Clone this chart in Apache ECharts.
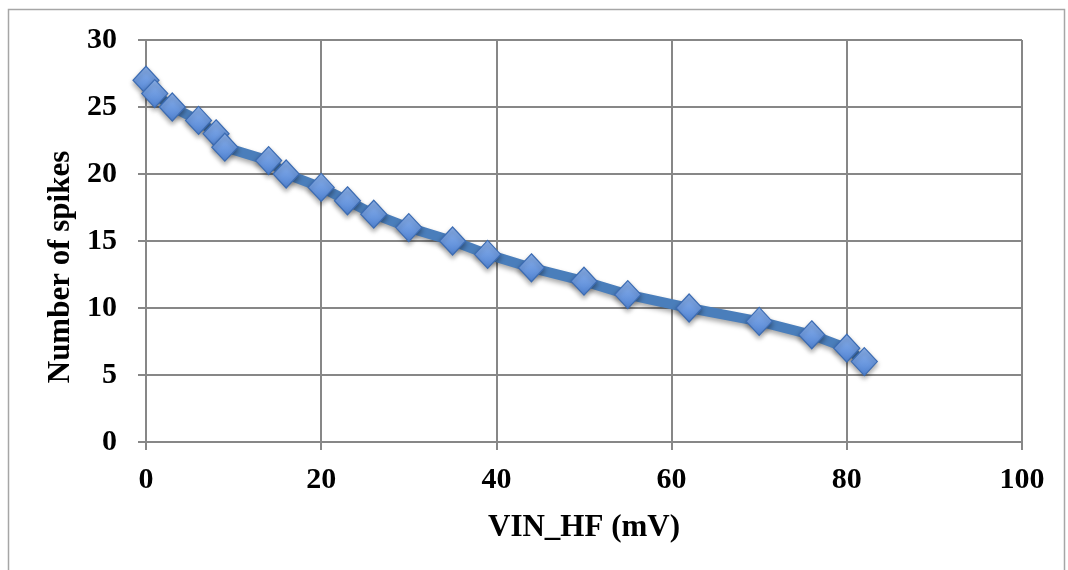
<!DOCTYPE html>
<html><head><meta charset="utf-8">
<script src="https://cdn.jsdelivr.net/npm/echarts@6/dist/echarts.min.js"></script>
<style>html,body{margin:0;padding:0;background:#fff}#c{width:1068px;height:570px}</style>
</head><body><div id="c"></div>
<script>
var xValues = [0, 1, 3, 6, 8, 9, 14, 16, 20, 23, 26, 30, 35, 39, 44, 50, 55, 62, 70, 76, 80, 82];
var spikes  = [27, 26, 25, 24, 23, 22, 21, 20, 19, 18, 17, 16, 15, 14, 13, 12, 11, 10, 9, 8, 7, 6];
var xName = 'VIN_HF (mV)';
var yName = 'Number of spikes';
var data = xValues.map(function(x, i){ return [x, spikes[i]]; });
var chart = echarts.init(document.getElementById('c'));
var font = '"Liberation Serif","Times New Roman",serif';
chart.setOption({
  animation: false,
  graphic: [{type:'rect', shape:{x:8.5,y:9.5,width:1056,height:580}, style:{fill:'none',stroke:'#a6a6a6',lineWidth:1.5}}],
  grid: {left:146, right:46, top:40, bottom:128},
  xAxis: {
    type:'value', min:0, max:100, interval:20,
    name:xName, nameLocation:'middle', nameGap:70,
    nameTextStyle:{fontFamily:font, fontWeight:'bold', fontSize:31, color:'#000'},
    axisLine:{lineStyle:{color:'#878787', width:2}},
    axisTick:{show:true, length:8, lineStyle:{color:'#878787', width:2}},
    axisLabel:{fontFamily:font, fontWeight:'bold', fontSize:30, color:'#000', margin:23},
    splitLine:{show:true, lineStyle:{color:'#878787', width:2}}
  },
  yAxis: {
    type:'value', min:0, max:30, interval:5,
    name:yName, nameLocation:'middle', nameGap:62,
    nameTextStyle:{fontFamily:font, fontWeight:'bold', fontSize:31, color:'#000', padding:[0,52,0,0]},
    axisLine:{show:true, lineStyle:{color:'#878787', width:2}},
    axisTick:{show:true, length:8, lineStyle:{color:'#878787', width:2}},
    axisLabel:{fontFamily:font, fontWeight:'bold', fontSize:30, color:'#000', margin:29},
    splitLine:{show:true, lineStyle:{color:'#878787', width:2}}
  },
  series: [{
    type:'line', data:data,
    lineStyle:{color:'#4a7ebb', width:10, shadowColor:'rgba(0,0,0,0.35)', shadowBlur:5, shadowOffsetY:3},
    symbol:'diamond', symbolSize:[26,28],
    itemStyle:{
      color:new echarts.graphic.LinearGradient(0,0,0,1,[{offset:0,color:'#8fb5ef'},{offset:1,color:'#4f82d2'}]),
      borderColor:'#3c6cb3', borderWidth:1.2,
      shadowColor:'rgba(0,0,0,0.35)', shadowBlur:5, shadowOffsetY:3
    }
  }]
});
</script></body></html>
